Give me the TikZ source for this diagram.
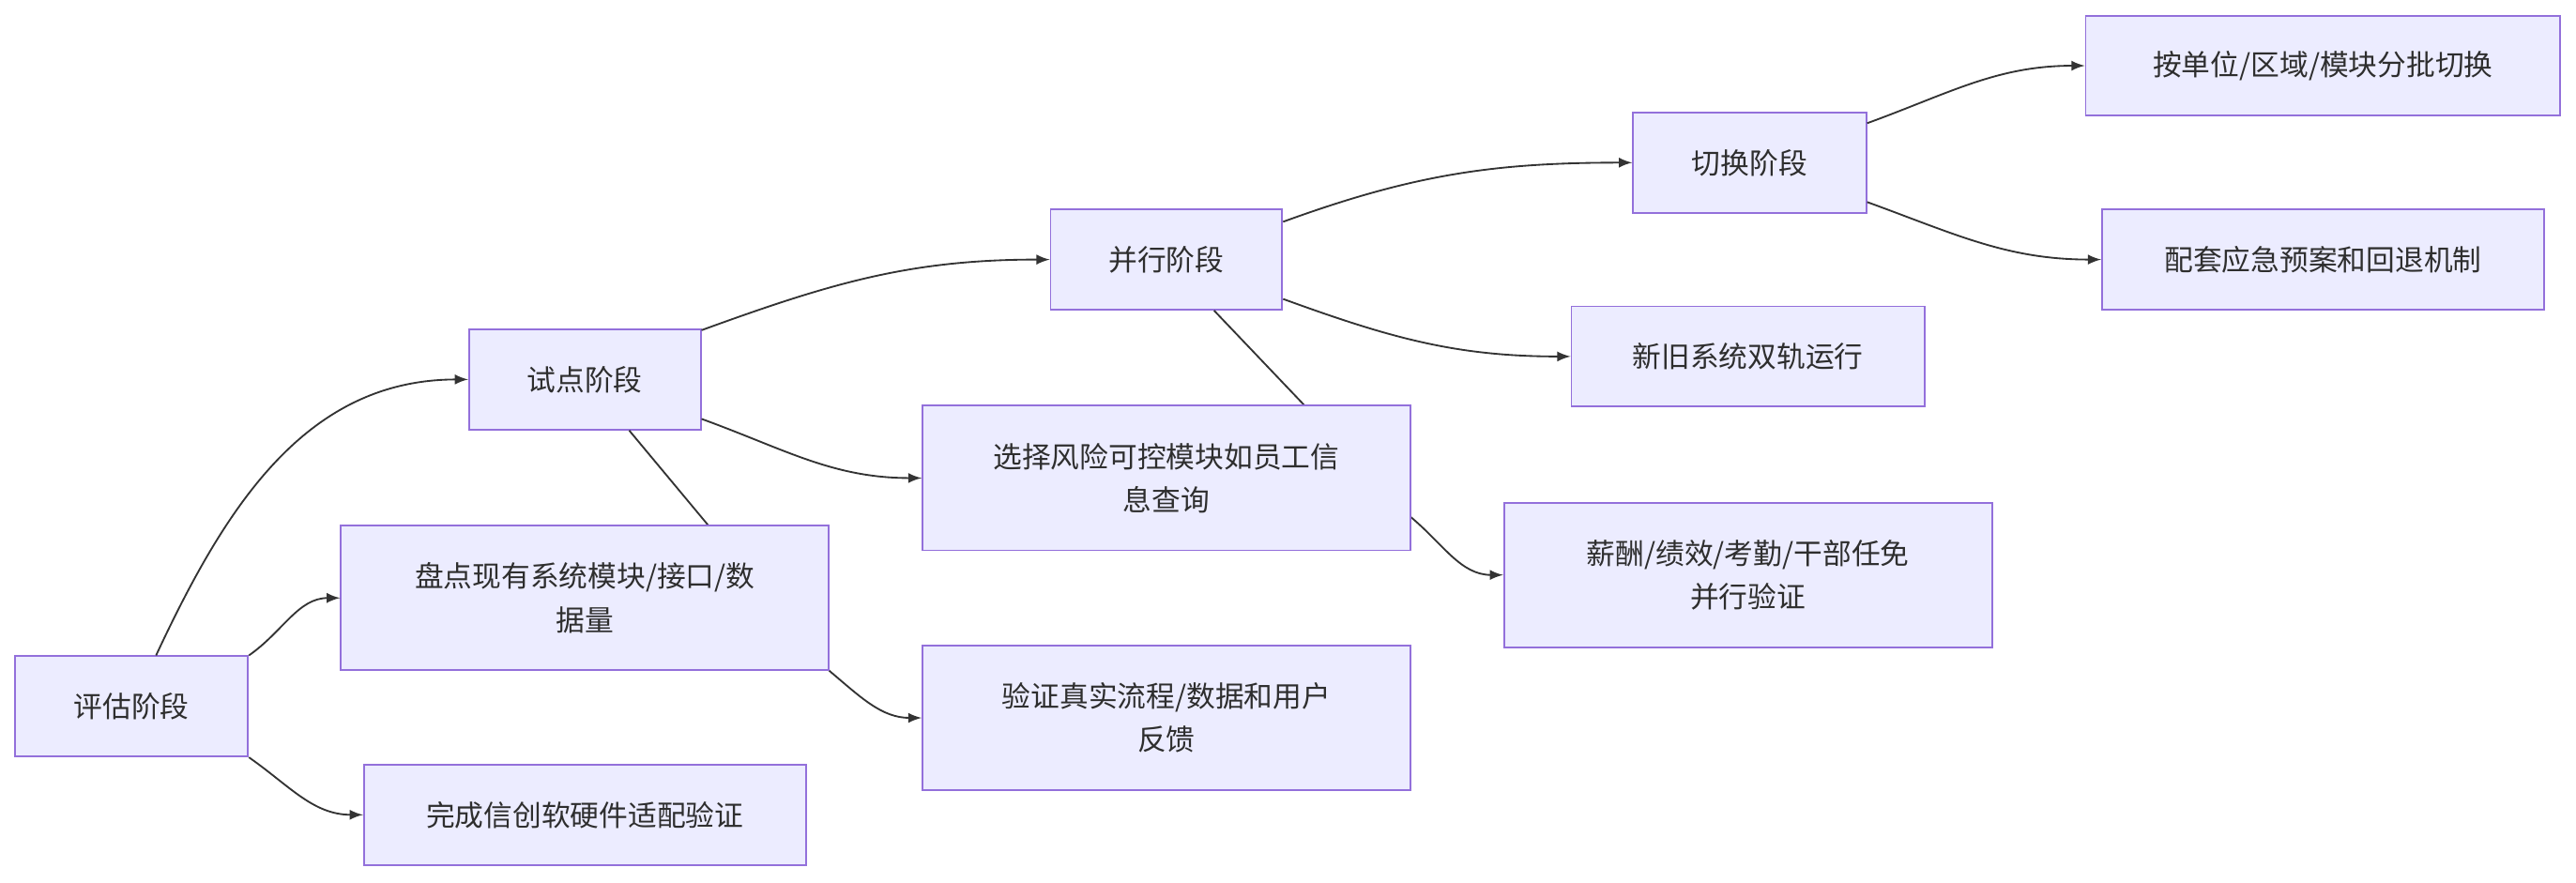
\documentclass[tikz,border=0pt]{standalone}
\usepackage{fontspec}
\setmainfont{Noto Sans CJK SC}
\usepackage{tikz}
\usetikzlibrary{arrows}
\definecolor{boxfill}{HTML}{ECECFF}
\definecolor{boxline}{HTML}{9370DB}
\definecolor{edgeline}{HTML}{333333}
\tikzset{
	stage/.style={rectangle,draw=boxline,fill=boxfill,line width=0.6pt,inner sep=0pt,
		font=\fontsize{10}{15}\selectfont,align=center,text=edgeline!90!black},
	edge/.style={draw=edgeline,line width=0.6pt,-latex}
}
\begin{document}
\begin{tikzpicture}[x=0.02cm,y=-0.02cm]
		\useasboundingbox (0,0) rectangle (1568,537);
		% stages
		\path (80,430) node(pg) [stage,minimum width=142*0.02cm,minimum height=61*0.02cm] {评估阶段};
		\path (356,231) node(sd) [stage,minimum width=141*0.02cm,minimum height=61*0.02cm] {试点阶段};
		\path (710,158) node(bx) [stage,minimum width=141*0.02cm,minimum height=61*0.02cm] {并行阶段};
		\path (1065,99) node(qh) [stage,minimum width=142*0.02cm,minimum height=61*0.02cm] {切换阶段};
		% tasks
		\path (356,364) node(pd) [stage,minimum width=297*0.02cm,minimum height=88*0.02cm] {盘点现有系统模块/接口/数\\据量};
		\path (356,496) node(wc) [stage,minimum width=269*0.02cm,minimum height=61*0.02cm] {完成信创软硬件适配验证};
		\path (710,291) node(xz) [stage,minimum width=297*0.02cm,minimum height=88*0.02cm] {选择风险可控模块如员工信\\息查询};
		\path (710,437) node(yz) [stage,minimum width=297*0.02cm,minimum height=88*0.02cm] {验证真实流程/数据和用户\\反馈};
		\path (1064,217) node(xj) [stage,minimum width=215*0.02cm,minimum height=61*0.02cm] {新旧系统双轨运行};
		\path (1064,350) node(xc) [stage,minimum width=297*0.02cm,minimum height=88*0.02cm] {薪酬/绩效/考勤/干部任免\\并行验证};
		\path (1414,40) node(ad) [stage,minimum width=289*0.02cm,minimum height=61*0.02cm] {按单位/区域/模块分批切换};
		\path (1414,158) node(pt) [stage,minimum width=269*0.02cm,minimum height=61*0.02cm] {配套应急预案和回退机制};

		% edges running behind boxes
		\begin{scope}[on background layer/.try]
		\end{scope}
		\draw[edge] ([shift={(27,0)}]sd.south) -- (pd.south east) to[out=-40,in=180] (yz.west);
		\draw[edge] ([shift={(29,0)}]bx.south) -- ([shift={(0,24)}]xz.east) to[out=-40,in=180] (xc.west);
		\path (356,364) node [stage,minimum width=297*0.02cm,minimum height=88*0.02cm] {盘点现有系统模块/接口/数\\据量};
		\path (710,291) node [stage,minimum width=297*0.02cm,minimum height=88*0.02cm] {选择风险可控模块如员工信\\息查询};

		\draw[edge] ([shift={(15,0)}]pg.north) to[out=65,in=180] (sd.west);
		\draw[edge] (pg.north east) to[out=35,in=180] (pd.west);
		\draw[edge] (pg.south east) to[out=-35,in=180] (wc.west);
		\draw[edge] ([shift={(0,-30)}]sd.east) to[out=20,in=180] (bx.west);
		\draw[edge] ([shift={(0,24)}]sd.east) to[out=-20,in=180] (xz.west);
		\draw[edge] ([shift={(0,-23)}]bx.east) to[out=20,in=180] (qh.west);
		\draw[edge] ([shift={(0,24)}]bx.east) to[out=-20,in=180] (xj.west);
		\draw[edge] ([shift={(0,-24)}]qh.east) to[out=20,in=180] (ad.west);
		\draw[edge] ([shift={(0,24)}]qh.east) to[out=-20,in=180] (pt.west);
\end{tikzpicture}
\end{document}
